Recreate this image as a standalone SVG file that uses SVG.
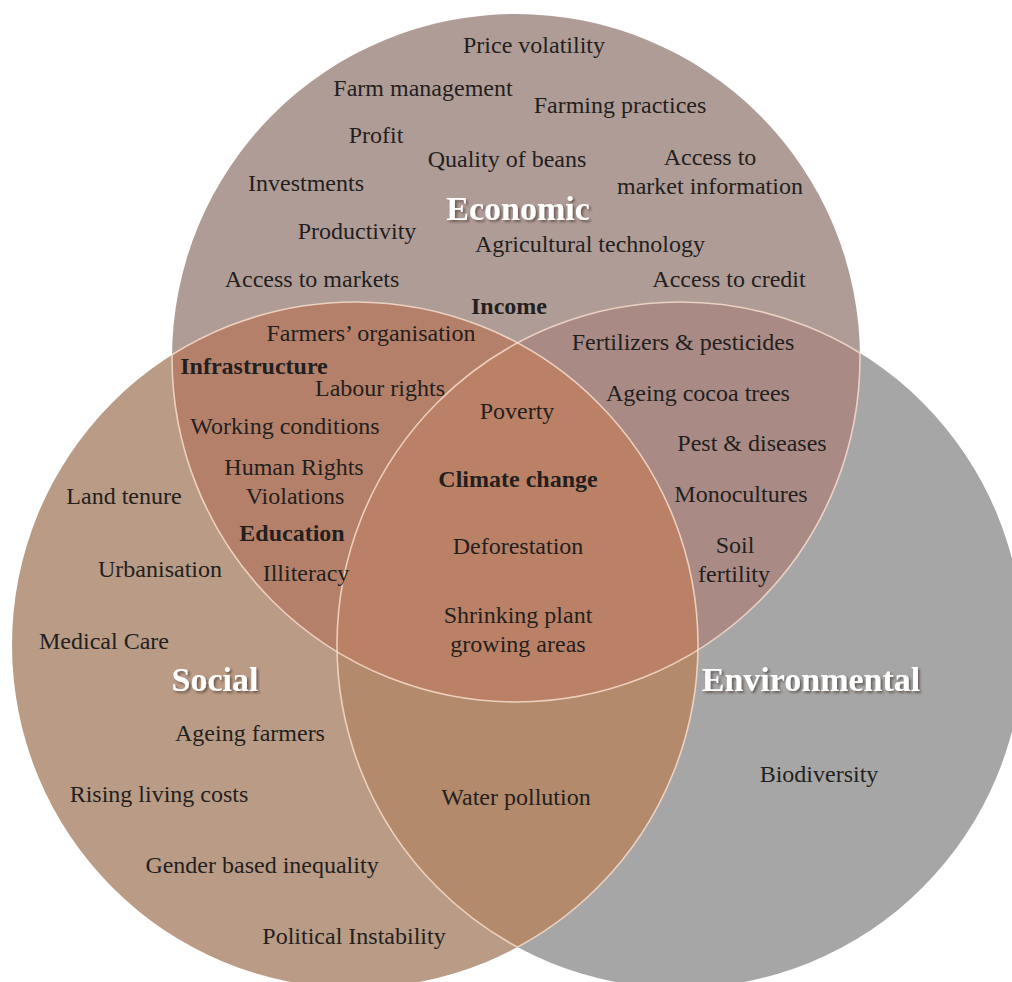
<svg xmlns="http://www.w3.org/2000/svg" width="1012" height="982" viewBox="0 0 1012 982">
  <style>
    .t { font-family: "Liberation Serif", "Times New Roman", serif; font-size: 24px; fill: #231f1e; text-anchor: middle; }
    .b { font-weight: bold; }
    .head { font-family: "Liberation Serif", "Times New Roman", serif; font-size: 34px; font-weight: bold; fill: #ffffff; text-anchor: middle; filter: url(#shadow); }
    .edge { fill: none; stroke: #f6dccb; stroke-width: 1.6; stroke-opacity: 0.85; }
  </style>
  <defs>
    <clipPath id="clipEco"><circle cx="516" cy="358" r="344"/></clipPath>
    <clipPath id="clipSoc"><circle cx="355" cy="645" r="343"/></clipPath>
    <!-- unions of the other two circles, so outlines only show inside overlaps -->
    <clipPath id="notEco"><circle cx="355" cy="645" r="343"/><circle cx="680" cy="645" r="343"/></clipPath>
    <clipPath id="notSoc"><circle cx="516" cy="358" r="344"/><circle cx="680" cy="645" r="343"/></clipPath>
    <clipPath id="notEnv"><circle cx="516" cy="358" r="344"/><circle cx="355" cy="645" r="343"/></clipPath>
    <filter id="shadow" x="-10%" y="-30%" width="130%" height="170%">
      <feDropShadow dx="2" dy="2" stdDeviation="1.2" flood-color="#3a2a24" flood-opacity="0.55"/>
    </filter>
  </defs>
  <rect width="1012" height="982" fill="#ffffff"/>

  <!-- base circles -->
  <g id="environmental">
    <circle cx="680" cy="645" r="343" fill="#a6a6a6"/>
  </g>
  <g id="social">
    <circle cx="355" cy="645" r="343" fill="#b99b86"/>
  </g>
  <g id="economic">
    <circle cx="516" cy="358" r="344" fill="#b09c96"/>
  </g>

  <!-- overlaps -->
  <g id="overlaps">
    <circle cx="355" cy="645" r="343" fill="#b5806a" clip-path="url(#clipEco)"/>
    <circle cx="680" cy="645" r="343" fill="#a98a85" clip-path="url(#clipEco)"/>
    <circle cx="680" cy="645" r="343" fill="#b48a6c" clip-path="url(#clipSoc)"/>
    <g clip-path="url(#clipEco)">
      <circle cx="680" cy="645" r="343" fill="#bb8166" clip-path="url(#clipSoc)"/>
    </g>
  </g>

  <!-- circle outlines inside overlaps -->
  <g id="outlines">
    <circle class="edge" cx="516" cy="358" r="344" clip-path="url(#notEco)"/>
    <circle class="edge" cx="355" cy="645" r="343" clip-path="url(#notSoc)"/>
    <circle class="edge" cx="680" cy="645" r="343" clip-path="url(#notEnv)"/>
  </g>

  <!-- economic -->
  <g id="economic-labels">
    <text class="t" x="534" y="53">Price volatility</text>
    <text class="t" x="423" y="96">Farm management</text>
    <text class="t" x="620" y="113">Farming practices</text>
    <text class="t" x="376" y="143">Profit</text>
    <text class="t" x="507" y="167">Quality of beans</text>
    <text class="t" x="710" y="165">Access to</text>
    <text class="t" x="710" y="194">market information</text>
    <text class="t" x="306" y="191">Investments</text>
    <text class="head" x="518" y="220">Economic</text>
    <text class="t" x="357" y="239">Productivity</text>
    <text class="t" x="590" y="252">Agricultural technology</text>
    <text class="t" x="312" y="287">Access to markets</text>
    <text class="t" x="729" y="287">Access to credit</text>
    <text class="t b" x="509" y="314">Income</text>
  </g>

  <!-- economic and social -->
  <g id="eco-social-labels">
    <text class="t" x="371" y="341">Farmers’ organisation</text>
    <text class="t b" x="254" y="374">Infrastructure</text>
    <text class="t" x="380" y="396">Labour rights</text>
    <text class="t" x="285" y="434">Working conditions</text>
    <text class="t" x="294" y="475">Human Rights</text>
    <text class="t" x="295" y="504">Violations</text>
    <text class="t b" x="292" y="541">Education</text>
    <text class="t" x="306" y="581">Illiteracy</text>
  </g>

  <!-- economic and environmental -->
  <g id="eco-env-labels">
    <text class="t" x="683" y="350">Fertilizers &amp; pesticides</text>
    <text class="t" x="698" y="401">Ageing cocoa trees</text>
    <text class="t" x="752" y="451">Pest &amp; diseases</text>
    <text class="t" x="741" y="502">Monocultures</text>
    <text class="t" x="735" y="553">Soil</text>
    <text class="t" x="734" y="582">fertility</text>
  </g>

  <!-- all three -->
  <g id="center-labels">
    <text class="t" x="517" y="419">Poverty</text>
    <text class="t b" x="518" y="487">Climate change</text>
    <text class="t" x="518" y="554">Deforestation</text>
    <text class="t" x="518" y="623">Shrinking plant</text>
    <text class="t" x="518" y="652">growing areas</text>
  </g>

  <!-- social -->
  <g id="social-labels">
    <text class="t" x="124" y="504">Land tenure</text>
    <text class="t" x="160" y="577">Urbanisation</text>
    <text class="t" x="104" y="649">Medical Care</text>
    <text class="head" x="215" y="691">Social</text>
    <text class="t" x="250" y="741">Ageing farmers</text>
    <text class="t" x="159" y="802">Rising living costs</text>
    <text class="t" x="262" y="873">Gender based inequality</text>
    <text class="t" x="354" y="944">Political Instability</text>
  </g>

  <!-- social and environmental -->
  <g id="social-env-labels">
    <text class="t" x="516" y="805">Water pollution</text>
  </g>

  <!-- environmental -->
  <g id="environmental-labels">
    <text class="head" x="811" y="691">Environmental</text>
    <text class="t" x="819" y="782">Biodiversity</text>
  </g>
</svg>
